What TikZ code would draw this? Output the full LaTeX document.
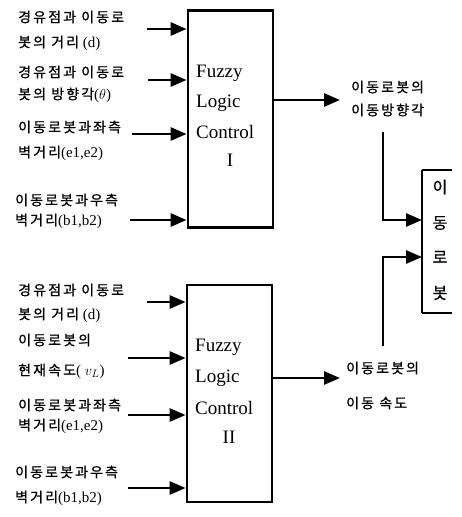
\documentclass[tikz,border=0pt]{standalone}
\usepackage{fontspec}
\setmainfont{Liberation Serif}
\newfontfamily\krfont[LetterSpace=15,FakeBold=0.8]{Noto Sans CJK KR}
\newfontfamily\krbig[FakeBold=0.8]{Noto Sans CJK KR}
\usetikzlibrary{arrows.meta}
\begin{document}
\begin{tikzpicture}[x=1pt,y=-1pt]
\tikzset{
  lbl/.style={anchor=west, inner sep=0pt, font=\fontsize{15}{17}\selectfont},
  fbox/.style={draw, line width=2.8pt, minimum width=85pt, minimum height=217pt, inner sep=0pt},
  edge/.style={line width=2.8pt},
  arr/.style={line width=2.8pt, -{Triangle[length=16pt,width=13pt]}},
  ctl/.style={font=\fontsize{19}{21}\selectfont, inner sep=0pt, anchor=west},
  ctlc/.style={font=\fontsize{19}{21}\selectfont, inner sep=0pt},
  rob/.style={font=\krbig\fontsize{16}{18}\selectfont, inner sep=0pt},
}
\newcommand{\kt}[1]{{\krfont\fontsize{14}{16}\selectfont #1}}
\useasboundingbox (0,0) rectangle (462,517);

% Fuzzy boxes
\node[fbox] (f1) at (230.5,119) {};
\node[fbox] (f2) at (229.5,393.5) {};
\node[ctl] (t1a) at (196,73) {Fuzzy};
\node[ctl] (t1b) at (196,103) {Logic};
\node[ctl] (t1c) at (196,132) {Control};
\node[ctlc] (t1d) at (230,160) {I};
\node[ctl] (t2a) at (195,347) {Fuzzy};
\node[ctl] (t2b) at (195,378) {Logic};
\node[ctl] (t2c) at (195,408) {Control};
\node[ctlc] (t2d) at (229,437) {II};

% robot box (open on the right, as in the picture)
\coordinate (rtl) at (422,170);
\coordinate (rbl) at (422,313);
\coordinate (rtr) at (452,170);
\coordinate (rbr) at (452,313);
\draw[edge] (rtr) -- (rtl);
\draw[edge] (rtl) -- (rbl);
\draw[edge] (rbl) -- (rbr);
\node[rob] (r1) at (440,187) {이};
\node[rob] (r2) at (440,223) {동};
\node[rob] (r3) at (440,257) {로};
\node[rob] (r4) at (440,293) {봇};

% left labels, controller I
\node[lbl] (l1) at (18,17) {\kt{경유점과 이동로}};
\node[lbl] (l2) at (18,43) {\kt{봇의 거리} (d)};
\node[lbl] (l3) at (18,72) {\kt{경유점과 이동로}};
\node[lbl] (l4) at (18,95) {\kt{봇의 방향각}($\theta$)};
\node[lbl] (l5) at (18,127) {\kt{이동로봇과좌측}};
\node[lbl] (l6) at (18,153) {\kt{벽거리}(e1,e2)};
\node[lbl] (l7) at (15,200) {\kt{이동로봇과우측}};
\node[lbl] (l8) at (15,221) {\kt{벽거리}(b1,b2)};

% left labels, controller II
\node[lbl] (m1) at (18,290) {\kt{경유점과 이동로}};
\node[lbl] (m2) at (18,315) {\kt{봇의 거리} (d)};
\node[lbl] (m3) at (18,340) {\kt{이동로봇의}};
\node[lbl] (m4) at (18,371) {\kt{현재속도}( $v_L$)};
\node[lbl] (m5) at (18,405) {\kt{이동로봇과좌측}};
\node[lbl] (m6) at (18,426) {\kt{벽거리}(e1,e2)};
\node[lbl] (m7) at (15,472) {\kt{이동로봇과우측}};
\node[lbl] (m8) at (15,498) {\kt{벽거리}(b1,b2)};

% right labels
\node[lbl] (o1) at (351,87) {\kt{이동로봇의}};
\node[lbl] (o2) at (351,110) {\kt{이동방향각}};
\node[lbl] (o3) at (346,368) {\kt{이동로봇의}};
\node[lbl] (o4) at (346,403) {\kt{이동 속도}};

% inputs to controller I
\coordinate (a1) at (147,29);
\coordinate (a2) at (148,80);
\coordinate (a3) at (132,134);
\coordinate (a4) at (130,220);
\foreach \c in {a1,a2,a3,a4} \draw[arr] (\c) -- (\c -| f1.west);
% inputs to controller II
\coordinate (b1) at (147,302);
\coordinate (b2) at (128,358);
\coordinate (b3) at (128,415);
\coordinate (b4) at (128,488);
\foreach \c in {b1,b2,b3,b4} \draw[arr] (\c) -- (\c -| f2.west);

% outputs
\coordinate (e1) at (340,100);
\coordinate (e2) at (340,378);
\draw[arr] (f1.east |- e1) -- (e1);
\draw[arr] (f2.east |- e2) -- (e2);

% into robot
\coordinate (v1) at (383,132);
\coordinate (h1) at (0,220);
\coordinate (v2) at (383,346);
\coordinate (h2) at (0,257);
\draw[arr] (v1) |- (rtl |- h1);
\draw[arr] (v2) |- (rtl |- h2);
\end{tikzpicture}
\end{document}
